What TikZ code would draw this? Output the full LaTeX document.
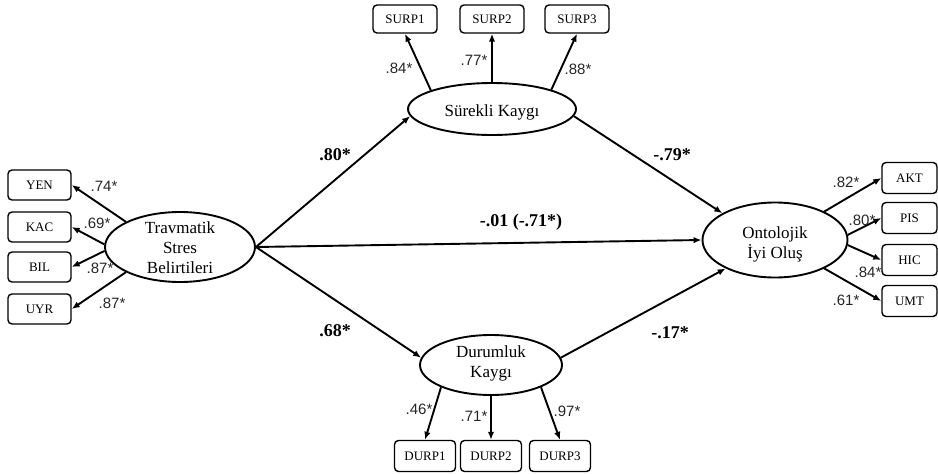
\documentclass[tikz,border=0pt]{standalone}
\usepackage{fontspec}
\setmainfont{Liberation Serif}
\newfontfamily\loadfont{Liberation Sans}
\usetikzlibrary{shapes.geometric,arrows.meta}
\begin{document}
\begin{tikzpicture}[x=1pt,y=-1pt,
 lat/.style={ellipse,draw,line width=1.9pt,inner sep=0pt},
 lattext/.style={align=center,font=\fontsize{17}{20}\selectfont,inner sep=0pt},
 ind/.style={draw,rounded corners=4pt,line width=1.4pt,inner sep=0pt,font=\fontsize{13}{14}\selectfont},
 indl/.style={ind,minimum width=63pt,minimum height=30pt},
 indt/.style={ind,minimum width=64pt,minimum height=28pt},
 indr/.style={ind,minimum width=55pt,minimum height=31pt},
 indb/.style={ind,minimum width=61pt,minimum height=31pt},
 arr/.style={-{Latex[length=8pt,width=6.5pt]},line width=1.9pt},
 ld/.style={font=\loadfont\fontsize{15}{17}\selectfont,inner sep=0pt,text=black!85},
 pl/.style={font=\bfseries\fontsize{18}{20}\selectfont,inner sep=0pt}]
\useasboundingbox (0,0) rectangle (938,474);

% latent variables
\node[lat,minimum width=150pt,minimum height=70pt] (trav) at (180,247) {};
\node[lattext] (travt) at (180,248) {Travmatik\\Stres\\Belirtileri};
\node[lat,minimum width=168pt,minimum height=52pt] (sur) at (492,109) {};
\node[lattext] (surt) at (492,112) {Sürekli Kaygı};
\node[lat,minimum width=145pt,minimum height=75pt] (onto) at (775,240) {};
\node[lattext] (ontot) at (775,244) {Ontolojik\\İyi Oluş};
\node[lat,minimum width=142pt,minimum height=60pt] (dur) at (491,365) {};
\node[lattext] (durt) at (491,363) {Durumluk\\Kaygı};

% indicators
\node[indl] (yen) at (39.5,185) {YEN};
\node[indl] (kac) at (39.5,227) {KAC};
\node[indl] (bil) at (39.5,267) {BIL};
\node[indl] (uyr) at (39.5,309) {UYR};
\node[indt] (surp1) at (405,19) {SURP1};
\node[indt] (surp2) at (492,19) {SURP2};
\node[indt] (surp3) at (577,19) {SURP3};
\node[indr] (akt) at (909.5,178) {AKT};
\node[indr] (pis) at (909.5,218) {PIS};
\node[indr] (hic) at (909.5,260) {HIC};
\node[indr] (umt) at (909.5,301) {UMT};
\node[indb] (durp1) at (425,456) {DURP1};
\node[indb] (durp2) at (491,456) {DURP2};
\node[indb] (durp3) at (560,456) {DURP3};

% structural paths
\draw[arr] (trav.east) -- (sur.185);
\draw[arr] (trav.east) -- (onto.west);
\draw[arr] (trav.east) -- (dur.174);
\draw[arr] (sur.355) -- (onto.153);
\draw[arr] (dur.6) -- (onto.210);

% measurement paths
\draw[arr] (trav.155) -- (yen.east);
\draw[arr] (trav.178) -- (kac.east);
\draw[arr] (trav.183) -- (bil.east);
\draw[arr] (trav.205) -- (uyr.east);
\draw[arr] (sur.163) -- (surp1.south);
\draw[arr] (sur.north) -- (surp2.south);
\draw[arr] (sur.18) -- (surp3.south);
\draw[arr] (onto.30) -- (akt.west);
\draw[arr] (onto.4) -- (pis.west);
\draw[arr] (onto.-4) -- (hic.west);
\draw[arr] (onto.-30) -- (umt.west);
\draw[arr] (dur.204) -- (durp1.north);
\draw[arr] (dur.south) -- (durp2.north);
\draw[arr] (dur.336) -- (durp3.north);

% loadings
\node[ld] (l1) at (104,186) {.74*};
\node[ld] (l2) at (97,223) {.69*};
\node[ld] (l3) at (100,268) {.87*};
\node[ld] (l4) at (112,303) {.87*};
\node[ld] (l5) at (399,68) {.84*};
\node[ld] (l6) at (474,60) {.77*};
\node[ld] (l7) at (578,69) {.88*};
\node[ld] (l8) at (846,182) {.82*};
\node[ld] (l9) at (862,220) {.80*};
\node[ld] (l10) at (868,272) {.84*};
\node[ld] (l11) at (846,300) {.61*};
\node[ld] (l12) at (419,409) {.46*};
\node[ld] (l13) at (474,416) {.71*};
\node[ld] (l14) at (567,411) {.97*};

% path coefficients
\node[pl] (p1) at (335,155) {.80*};
\node[pl] (p2) at (335,331) {.68*};
\node[pl] (p3) at (521,222) {-.01 (-.71*)};
\node[pl] (p4) at (672,155) {-.79*};
\node[pl] (p5) at (670,333) {-.17*};
\end{tikzpicture}
\end{document}
